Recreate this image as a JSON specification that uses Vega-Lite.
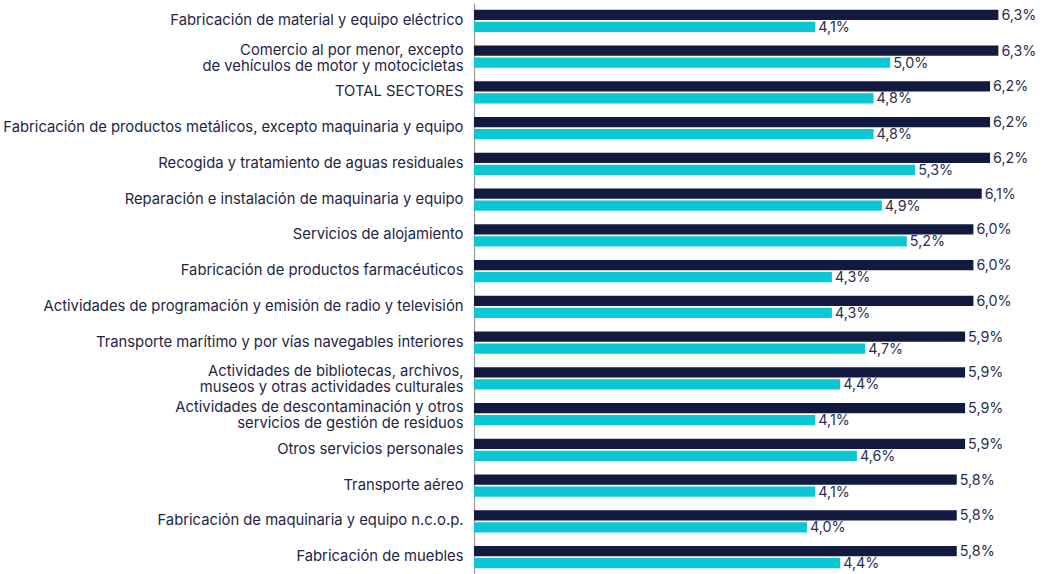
{
  "$schema": "https://vega.github.io/schema/vega-lite/v6.json",
  "autosize": {"type": "none"},
  "padding": {"left": 474, "top": 3, "right": 0, "bottom": 0},
  "width": 566,
  "height": 572,
  "background": "white",
  "config": {
    "view": {"stroke": null},
    "locale": {"number": {"decimal": ",", "thousands": ".", "grouping": [3], "currency": ["", " €"]}},
    "font": "Inter"
  },
  "data": {
    "values": [
      {"sector": "Fabricación de material y equipo eléctrico", "serie": "A", "valor": 0.063},
      {"sector": "Fabricación de material y equipo eléctrico", "serie": "B", "valor": 0.041},
      {"sector": "Comercio al por menor, excepto|de vehículos de motor y motocicletas", "serie": "A", "valor": 0.063},
      {"sector": "Comercio al por menor, excepto|de vehículos de motor y motocicletas", "serie": "B", "valor": 0.050},
      {"sector": "TOTAL SECTORES", "serie": "A", "valor": 0.062},
      {"sector": "TOTAL SECTORES", "serie": "B", "valor": 0.048},
      {"sector": "Fabricación de productos metálicos, excepto maquinaria y equipo", "serie": "A", "valor": 0.062},
      {"sector": "Fabricación de productos metálicos, excepto maquinaria y equipo", "serie": "B", "valor": 0.048},
      {"sector": "Recogida y tratamiento de aguas residuales", "serie": "A", "valor": 0.062},
      {"sector": "Recogida y tratamiento de aguas residuales", "serie": "B", "valor": 0.053},
      {"sector": "Reparación e instalación de maquinaria y equipo", "serie": "A", "valor": 0.061},
      {"sector": "Reparación e instalación de maquinaria y equipo", "serie": "B", "valor": 0.049},
      {"sector": "Servicios de alojamiento", "serie": "A", "valor": 0.060},
      {"sector": "Servicios de alojamiento", "serie": "B", "valor": 0.052},
      {"sector": "Fabricación de productos farmacéuticos", "serie": "A", "valor": 0.060},
      {"sector": "Fabricación de productos farmacéuticos", "serie": "B", "valor": 0.043},
      {"sector": "Actividades de programación y emisión de radio y televisión", "serie": "A", "valor": 0.060},
      {"sector": "Actividades de programación y emisión de radio y televisión", "serie": "B", "valor": 0.043},
      {"sector": "Transporte marítimo y por vías navegables interiores", "serie": "A", "valor": 0.059},
      {"sector": "Transporte marítimo y por vías navegables interiores", "serie": "B", "valor": 0.047},
      {"sector": "Actividades de bibliotecas, archivos,|museos y otras actividades culturales", "serie": "A", "valor": 0.059},
      {"sector": "Actividades de bibliotecas, archivos,|museos y otras actividades culturales", "serie": "B", "valor": 0.044},
      {"sector": "Actividades de descontaminación y otros|servicios de gestión de residuos", "serie": "A", "valor": 0.059},
      {"sector": "Actividades de descontaminación y otros|servicios de gestión de residuos", "serie": "B", "valor": 0.041},
      {"sector": "Otros servicios personales", "serie": "A", "valor": 0.059},
      {"sector": "Otros servicios personales", "serie": "B", "valor": 0.046},
      {"sector": "Transporte aéreo", "serie": "A", "valor": 0.058},
      {"sector": "Transporte aéreo", "serie": "B", "valor": 0.041},
      {"sector": "Fabricación de maquinaria y equipo n.c.o.p.", "serie": "A", "valor": 0.058},
      {"sector": "Fabricación de maquinaria y equipo n.c.o.p.", "serie": "B", "valor": 0.040},
      {"sector": "Fabricación de muebles", "serie": "A", "valor": 0.058},
      {"sector": "Fabricación de muebles", "serie": "B", "valor": 0.044}
    ]
  },
  "encoding": {
    "y": {
      "field": "sector", "type": "nominal", "sort": null, "title": null,
      "scale": {"paddingInner": 0.38, "paddingOuter": 0.19},
      "axis": {
        "labelExpr": "split(datum.label, '|')",
        "labelLineHeight": 16,
        "labelFontSize": 14.8,
        "labelColor": "#1f2545",
        "labelPadding": 11,
        "labelLimit": 0,
        "labelOffset": {"condition": {"test": "indexof(datum.value, '|') >= 0", "value": -6}, "value": 0},
        "ticks": false,
        "domainColor": "#9a9a9a",
        "domainWidth": 1.2,
        "grid": false
      }
    },
    "yOffset": {"field": "serie", "type": "nominal", "sort": ["A", "B"], "scale": {"paddingInner": 0.15}},
    "x": {
      "field": "valor", "type": "quantitative",
      "scale": {"domain": [0, 0.068], "nice": false},
      "axis": null
    }
  },
  "layer": [
    {
      "mark": {"type": "bar"},
      "encoding": {
        "color": {
          "field": "serie", "type": "nominal", "legend": null,
          "scale": {"domain": ["A", "B"], "range": ["#131a40", "#0ac7d3"]}
        }
      }
    },
    {
      "mark": {"type": "text", "align": "left", "baseline": "middle", "dx": 3, "dy": 1, "fontSize": 14.3, "color": "#2a2f4f"},
      "encoding": {
        "text": {"field": "valor", "type": "quantitative", "format": ".1%"}
      }
    }
  ]
}
